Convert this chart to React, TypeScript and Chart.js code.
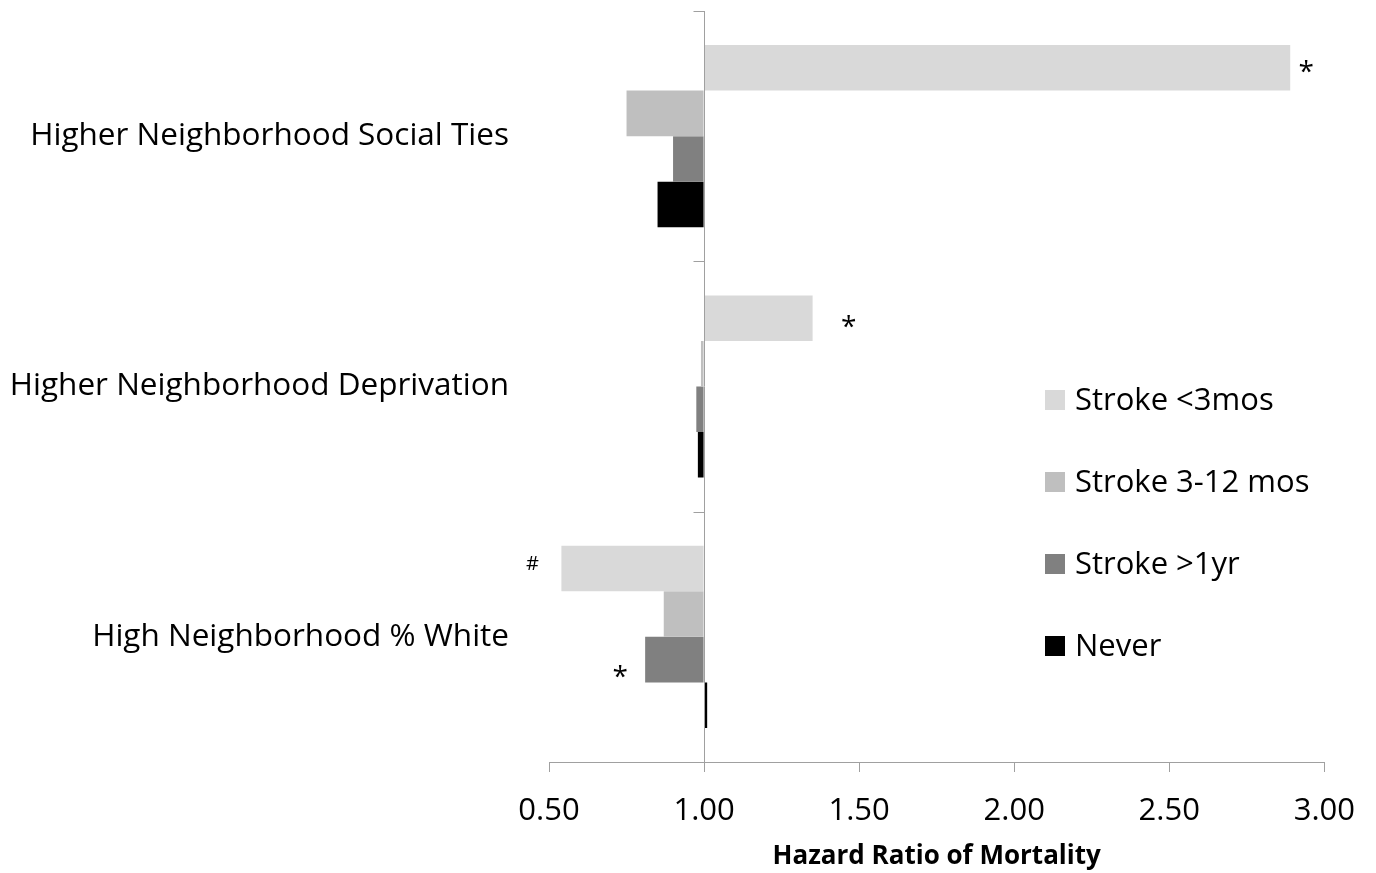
import React, { useEffect, useRef } from "react";
import { Chart, registerables } from "chart.js";

Chart.register(...registerables);

// ---------- data ----------
const categories = [
  "Higher Neighborhood Social Ties",
  "Higher Neighborhood Deprivation",
  "High Neighborhood % White",
];
const seriesNames = ["Stroke <3mos", "Stroke 3-12 mos", "Stroke >1yr", "Never"];
const strokeUnder3mos = [2.89, 1.35, 0.54];
const stroke3to12mos = [0.75, 0.99, 0.87];
const strokeOver1yr = [0.9, 0.975, 0.81];
const neverStroke = [0.85, 0.98, 1.01];
const xTickValues = [0.5, 1.0, 1.5, 2.0, 2.5, 3.0];
const referenceValue = 1.0;
const xAxisTitle = "Hazard Ratio of Mortality";
// significance marks: category index, series index, symbol
const markCategory = [0, 1, 2, 2];
const markSeries = [0, 0, 0, 2];
const markText = ["*", "*", "#", "*"];

// ---------- styles ----------
const seriesColors = ["#d9d9d9", "#bfbfbf", "#808080", "#000000"];
const FONT = "'Open Sans', 'DejaVu Sans', sans-serif";
const axisColor = "#a0a0a0";
const markOffsets = [
  [16, -1],
  [36, 3.5],
  [-29, -5],
  [-25, 12],
];
const markSizes = [28, 28, 20, 28];
const legendBox = { x: 1045, size: 20, textX: 1075, rows: [400, 482, 564, 646] };

const seriesValues = [strokeUnder3mos, stroke3to12mos, strokeOver1yr, neverStroke];

const refAxisPlugin = {
  id: "refAxis",
  afterDatasetsDraw(chart: any) {
    const { ctx, scales } = chart;
    const xs = scales.x;
    const ys = scales.y;
    const x = Math.round(xs.getPixelForValue(referenceValue)) + 0.5;
    ctx.save();
    ctx.strokeStyle = axisColor;
    ctx.lineWidth = 1;
    ctx.beginPath();
    ctx.moveTo(x, chart.chartArea.top);
    ctx.lineTo(x, chart.chartArea.bottom);
    for (let i = 0; i <= categories.length; i++) {
      const y = Math.round(ys.getPixelForValue(i - 0.5)) + 0.5;
      ctx.moveTo(x - 11, y);
      ctx.lineTo(x, y);
    }
    ctx.stroke();

    // significance marks
    ctx.fillStyle = "#000";
    ctx.textAlign = "center";
    ctx.textBaseline = "alphabetic";
    for (let k = 0; k < markText.length; k++) {
      const el = chart.getDatasetMeta(markSeries[k]).data[markCategory[k]];
      if (!el) continue;
      ctx.font = `${markSizes[k]}px ${FONT}`;
      const m = ctx.measureText(markText[k]);
      const tx = el.x + markOffsets[k][0];
      const ty = el.y + markOffsets[k][1];
      const baseline = ty + (m.actualBoundingBoxAscent - m.actualBoundingBoxDescent) / 2;
      ctx.fillText(markText[k], tx, baseline);
    }
    ctx.restore();
  },
  afterDraw(chart: any) {
    const { ctx } = chart;
    ctx.save();
    ctx.font = `31px ${FONT}`;
    ctx.textAlign = "left";
    ctx.textBaseline = "middle";
    chart.data.datasets.forEach((ds: any, i: number) => {
      const cy = legendBox.rows[i];
      ctx.fillStyle = ds.backgroundColor;
      ctx.fillRect(legendBox.x, cy - legendBox.size / 2, legendBox.size, legendBox.size);
      ctx.fillStyle = "#000";
      ctx.fillText(ds.label, legendBox.textX, cy + 1);
    });
    ctx.restore();
  },
};

export default function App() {
  const canvasRef = useRef<HTMLCanvasElement | null>(null);

  useEffect(() => {
    if (!canvasRef.current) return;
    const chart = new Chart(canvasRef.current, {
      type: "bar",
      data: {
        labels: categories,
        datasets: seriesNames.map((name, i) => ({
          label: name,
          data: seriesValues[i],
          backgroundColor: seriesColors[i],
          borderWidth: 0,
          base: referenceValue,
          categoryPercentage: 0.728,
          barPercentage: 1,
        })),
      },
      options: {
        indexAxis: "y",
        responsive: false,
        animation: false,
        devicePixelRatio: 1,
        layout: { padding: { top: 11, right: 51, left: 0, bottom: 0 } },
        plugins: {
          legend: { display: false },
          tooltip: { enabled: false },
        },
        scales: {
          x: {
            type: "linear",
            min: xTickValues[0],
            max: xTickValues[xTickValues.length - 1],
            afterBuildTicks: (s: any) => {
              s.ticks = xTickValues.map((v) => ({ value: v }));
            },
            afterFit: (s: any) => {
              s.height = 111;
            },
            ticks: {
              callback: (v: any) => Number(v).toFixed(2),
              font: { family: FONT, size: 31 },
              color: "#000",
              padding: 21,
              maxRotation: 0,
            },
            grid: {
              drawOnChartArea: false,
              drawTicks: true,
              tickLength: 10,
              color: axisColor,
            },
            border: { display: true, color: axisColor, width: 1 },
            title: {
              display: true,
              text: xAxisTitle,
              font: { family: FONT, size: 26, weight: "bold" },
              color: "#000",
              padding: { top: 0, bottom: 1 },
            },
          },
          y: {
            type: "category",
            afterFit: (s: any) => {
              s.width = 549;
              s.paddingTop = 0;
              s.paddingBottom = 0;
            },
            ticks: {
              font: { family: FONT, size: 31.5 },
              color: "#000",
              padding: 32,
            },
            grid: { display: false },
            border: { display: false },
          },
        },
      },
      plugins: [refAxisPlugin],
    } as any);
    return () => chart.destroy();
  }, []);

  return (
    <div style={{ position: "absolute", left: 0, top: 0, width: 1376, height: 873, background: "#fff" }}>
      <canvas ref={canvasRef} width={1376} height={873} style={{ display: "block" }} />
    </div>
  );
}
